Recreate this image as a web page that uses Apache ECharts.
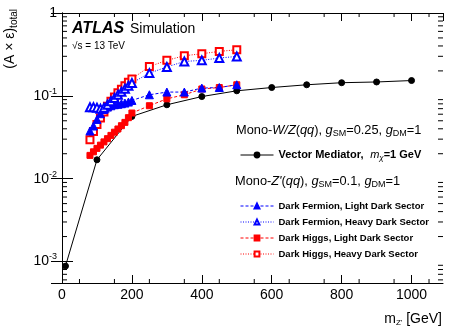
<!DOCTYPE html>
<html>
<head>
<meta charset="utf-8">
<script src="https://cdn.jsdelivr.net/npm/echarts@6/dist/echarts.min.js"></script>
<style>
  html, body { margin: 0; padding: 0; background: #fff; }
  #chart { width: 451px; height: 329px; }
</style>
</head>
<body>
<div id="chart"></div>
<script>
// mediator masses [GeV] and (A x eps)_total
const massVector = [10, 100, 200, 300, 400, 500, 600, 700, 800, 900, 1000];
const accVector = [0.00088, 0.0169, 0.0564, 0.078, 0.098, 0.115, 0.126, 0.136, 0.144, 0.147, 0.153];

const massZp = [80, 90, 100, 110, 120, 130, 140, 150, 160, 170, 180, 190, 200, 250, 300, 350, 400, 450, 500];
const accFermionLight = [0.0376, 0.0432, 0.0519, 0.0608, 0.0685, 0.0731, 0.0759, 0.0781, 0.079, 0.0803, 0.0818, 0.0841, 0.088, 0.103, 0.111, 0.111, 0.124, 0.126, 0.136];
const accFermionHeavy = [0.073, 0.073, 0.072, 0.07, 0.072, 0.078, 0.086, 0.094, 0.103, 0.112, 0.122, 0.132, 0.143, 0.188, 0.223, 0.26, 0.268, 0.286, 0.299];
const accHiggsLight = [0.0191, 0.0211, 0.0232, 0.0254, 0.0278, 0.0304, 0.0333, 0.0364, 0.0398, 0.0436, 0.0478, 0.0545, 0.062, 0.076, 0.092, 0.103, 0.121, 0.126, 0.136];
const accHiggsHeavy = [0.0295, 0.037, 0.045, 0.054, 0.064, 0.075, 0.086, 0.097, 0.109, 0.12, 0.132, 0.146, 0.16, 0.226, 0.268, 0.305, 0.322, 0.344, 0.36];

// axes
const xMin = 0, xMax = 1090, xStep = 200;
const yMin = 0.00055, yMax = 1;
const xMinorTicks = [50, 150, 250, 350, 450, 550, 650, 750, 850, 950, 1050];
const yMinorTicks = [
  0.0006, 0.0007, 0.0008, 0.0009,
  0.002, 0.003, 0.004, 0.005, 0.006, 0.007, 0.008, 0.009,
  0.02, 0.03, 0.04, 0.05, 0.06, 0.07, 0.08, 0.09,
  0.2, 0.3, 0.4, 0.5, 0.6, 0.7, 0.8, 0.9
];

const FONT = 'Liberation Sans, Arial, sans-serif';
const BLUE = '#0000ff';
const RED = '#ff0000';

const zip = (xs, ys) => xs.map((x, i) => [x, ys[i]]);

const chart = echarts.init(document.getElementById('chart'), null, { renderer: 'canvas' });

function lineSeries(name, xs, ys, color, symbol, size, dash) {
  return {
    name,
    type: 'line',
    data: zip(xs, ys),
    symbol,
    symbolSize: size,
    color,
    itemStyle: { color, borderColor: color, borderWidth: 1 },
    lineStyle: { color, width: 1, type: dash },
    emphasis: { disabled: true },
  };
}

const axisBase = {
  axisLine: { show: true, lineStyle: { color: '#000', width: 1 } },
  splitLine: { show: false },
};

const option = {
  animation: false,
  backgroundColor: '#fff',
  textStyle: { fontFamily: FONT },
  grid: { left: 62, right: 8, top: 13, bottom: 46 },
  xAxis: [
    {
      ...axisBase,
      type: 'value',
      min: xMin,
      max: xMax,
      interval: xStep,
      axisTick: { inside: true, length: 8, lineStyle: { color: '#000' } },
      axisLabel: {
        fontSize: 14, color: '#000', margin: 5, fontFamily: FONT,
        showMaxLabel: false,
        formatter: v => String(v),
      },
    },
    {
      ...axisBase,
      type: 'value',
      position: 'top',
      min: xMin,
      max: xMax,
      interval: xStep,
      axisTick: { inside: true, length: 8, lineStyle: { color: '#000' } },
      axisLabel: { show: false },
    },
  ],
  yAxis: [
    {
      ...axisBase,
      type: 'log',
      logBase: 10,
      min: yMin,
      max: yMax,
      axisTick: { inside: true, length: 11, lineStyle: { color: '#000' } },
      axisLabel: {
        color: '#000', margin: 5, fontFamily: FONT,
        showMinLabel: false,
        formatter: v => {
          const l = Math.log10(v);
          const e = Math.round(l);
          if (Math.abs(l - e) > 0.01) return '';
          return e === 0 ? '{b|1}' : '{b|10}{e|' + e + '}';
        },
        rich: {
          b: { fontSize: 14, fontFamily: FONT, color: '#000' },
          e: { fontSize: 9, fontFamily: FONT, color: '#000', padding: [0, 0, 9, 0] },
        },
      },
    },
    {
      ...axisBase,
      type: 'log',
      logBase: 10,
      position: 'right',
      min: yMin,
      max: yMax,
      axisTick: { inside: true, length: 11, lineStyle: { color: '#000' } },
      axisLabel: { show: false },
    },
  ],
  legend: [
    {
      data: ['Vector Mediator'],
      left: 235,
      top: 144,
      itemWidth: 33,
      itemHeight: 6,
      lineStyle: { width: 1 },
      formatter: () => '{b|Vector Mediator,}  {m|m}{s|χ}{b|=1 GeV}',
      textStyle: {
        rich: {
          b: { fontSize: 11, fontWeight: 'bold', fontFamily: FONT, color: '#000' },
          m: { fontSize: 11, fontStyle: 'italic', fontFamily: FONT, color: '#000' },
          s: { fontSize: 8, fontStyle: 'italic', fontFamily: FONT, color: '#000', padding: [5, 0, 0, 0] },
        },
      },
    },
    {
      data: [
        'Dark Fermion, Light Dark Sector',
        'Dark Fermion, Heavy Dark Sector',
        'Dark Higgs, Light Dark Sector',
        'Dark Higgs, Heavy Dark Sector',
      ],
      orient: 'vertical',
      left: 235,
      top: 196,
      itemWidth: 33,
      itemHeight: 6,
      itemGap: 6,
      lineStyle: { width: 1 },
      textStyle: {
        fontSize: 9.5, fontWeight: 'bold', fontFamily: FONT, color: '#000',
      },
    },
  ],
  graphic: [
    {
      type: 'text', x: 72, y: 29,
      style: { text: 'ATLAS', font: 'italic bold 16px ' + FONT, fill: '#000', verticalAlign: 'middle' },
    },
    {
      type: 'text', x: 130, y: 29,
      style: { text: 'Simulation', font: '14px ' + FONT, fill: '#000', verticalAlign: 'middle' },
    },
    {
      type: 'text', x: 72, y: 46,
      style: { text: '√s = 13 TeV', font: '10px ' + FONT, fill: '#000', verticalAlign: 'middle' },
    },
    {
      type: 'text', x: 10, y: 9, rotation: Math.PI / 2,
      style: {
        text: '{n|(A × ε)}{s|total}',
        align: 'right', verticalAlign: 'middle',
        rich: {
          n: { fontSize: 14, fontFamily: FONT, fill: '#000' },
          s: { fontSize: 10, fontFamily: FONT, fill: '#000', padding: [8, 0, 0, 0] },
        },
      },
    },
    {
      type: 'text', x: 442, y: 319,
      style: {
        text: '{n|m}{s|Z\'}{n| [GeV]}',
        align: 'right', verticalAlign: 'middle',
        rich: {
          n: { fontSize: 14, fontFamily: FONT, fill: '#000' },
          s: { fontSize: 8, fontFamily: FONT, fill: '#000', padding: [7, 0, 0, 0] },
        },
      },
    },
    {
      type: 'text', x: 236, y: 130,
      style: {
        text: '{n|Mono-}{i|W/Z}{n|(}{i|qq}{n|), }{i|g}{s|SM}{n|=0.25, }{i|g}{s|DM}{n|=1}',
        verticalAlign: 'middle',
        rich: {
          n: { fontSize: 12.8, fontFamily: FONT, fill: '#000' },
          i: { fontSize: 12.8, fontFamily: FONT, fontStyle: 'italic', fill: '#000' },
          s: { fontSize: 9, fontFamily: FONT, fill: '#000', padding: [7, 0, 0, 0] },
        },
      },
    },
    {
      type: 'text', x: 235, y: 181,
      style: {
        text: '{n|Mono-}{i|Z\'}{n|(}{i|qq}{n|), }{i|g}{s|SM}{n|=0.1, }{i|g}{s|DM}{n|=1}',
        verticalAlign: 'middle',
        rich: {
          n: { fontSize: 12.8, fontFamily: FONT, fill: '#000' },
          i: { fontSize: 12.8, fontFamily: FONT, fontStyle: 'italic', fill: '#000' },
          s: { fontSize: 9, fontFamily: FONT, fill: '#000', padding: [7, 0, 0, 0] },
        },
      },
    },
  ],
  series: [
    lineSeries('Vector Mediator', massVector, accVector, '#000', 'circle', 6, 'solid'),
    lineSeries('Dark Higgs, Light Dark Sector', massZp, accHiggsLight, RED, 'rect', 6, [3, 2]),
    lineSeries('Dark Higgs, Heavy Dark Sector', massZp, accHiggsHeavy, RED, 'emptyRect', 7, [1, 1.5]),
    lineSeries('Dark Fermion, Light Dark Sector', massZp, accFermionLight, BLUE, 'triangle', 8, [3, 2]),
    lineSeries('Dark Fermion, Heavy Dark Sector', massZp, accFermionHeavy, BLUE, 'emptyTriangle', 8, [1, 1.5]),
    {
      // minor ticks of the log y axis, left and right frame
      type: 'custom',
      silent: true,
      z: 5,
      data: yMinorTicks.map(v => [xMin, v]),
      renderItem: (params, api) => {
        const v = api.value(1);
        const a = api.coord([xMin, v]);
        const b = api.coord([xMax, v]);
        const st = { stroke: '#000', lineWidth: 1 };
        return {
          type: 'group',
          children: [
            { type: 'line', shape: { x1: a[0], y1: a[1], x2: a[0] + 5, y2: a[1] }, style: st },
            { type: 'line', shape: { x1: b[0] - 5, y1: b[1], x2: b[0], y2: b[1] }, style: st },
          ],
        };
      },
    },
    {
      // minor ticks of the x axis, bottom and top frame
      type: 'custom',
      silent: true,
      z: 5,
      data: xMinorTicks.map(m => [m, yMin]),
      renderItem: (params, api) => {
        const m = api.value(0);
        const a = api.coord([m, yMin]);
        const b = api.coord([m, yMax]);
        const st = { stroke: '#000', lineWidth: 1 };
        return {
          type: 'group',
          children: [
            { type: 'line', shape: { x1: a[0], y1: a[1], x2: a[0], y2: a[1] - 4 }, style: st },
            { type: 'line', shape: { x1: b[0], y1: b[1], x2: b[0], y2: b[1] + 4 }, style: st },
          ],
        };
      },
    },
  ],
};

chart.setOption(option);
</script>
</body>
</html>
